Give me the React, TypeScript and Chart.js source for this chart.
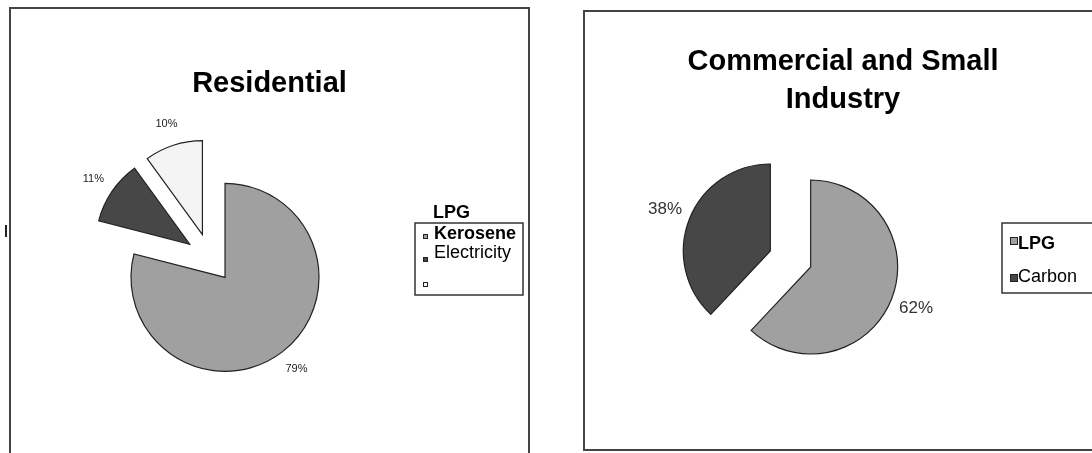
import React, { useEffect, useRef } from 'react';
import { Chart, registerables } from 'chart.js';

Chart.register(...registerables);

const FONT = '"Liberation Sans", Arial, Helvetica, sans-serif';

// ---- data ----
const residentialLabels = ['LPG', 'Kerosene', 'Electricity'];
const residentialValues = [79, 11, 10];
const residentialColors = ['#a0a0a0', '#474747', '#f4f4f4'];
const residentialTitle = ['Residential'];

const commercialLabels = ['LPG', 'Carbon'];
const commercialValues = [62, 38];
const commercialColors = ['#a0a0a0', '#474747'];
const commercialTitle = ['Commercial and Small', 'Industry'];

// ---- plugin: exploded slices, title, percentage labels, legend ----
const panelPlugin = {
  id: 'panel',
  beforeDatasetDraw(chart: any, args: any, opts: any) {
    const dist = opts.explode || 0;
    const ctx = chart.ctx;
    args.meta.data.forEach((arc: any) => {
      const p = arc.getProps(['startAngle', 'endAngle'], true);
      const mid = (p.startAngle + p.endAngle) / 2;
      ctx.save();
      ctx.translate(Math.cos(mid) * dist, Math.sin(mid) * dist);
      arc.draw(ctx);
      ctx.restore();
    });
    return false;
  },
  afterDraw(chart: any, _args: any, opts: any) {
    const ctx = chart.ctx;
    ctx.save();
    // title
    const t = opts.title;
    ctx.font = `bold ${t.size}px ${FONT}`;
    ctx.fillStyle = '#000';
    ctx.textAlign = 'center';
    ctx.textBaseline = 'alphabetic';
    t.lines.forEach((line: string, i: number) => {
      ctx.fillText(line, t.x, t.y + i * t.lineHeight);
    });

    // percentage labels
    const meta = chart.getDatasetMeta(0);
    const values = chart.data.datasets[0].data;
    const lb = opts.labels;
    ctx.font = `${lb.size}px ${FONT}`;
    ctx.fillStyle = lb.color;
    ctx.textAlign = 'center';
    ctx.textBaseline = 'middle';
    meta.data.forEach((arc: any, i: number) => {
      const p = arc.getProps(['x', 'y', 'startAngle', 'endAngle'], true);
      const mid = (p.startAngle + p.endAngle) / 2;
      const x = p.x + Math.cos(mid) * lb.distance;
      const y = p.y + Math.sin(mid) * lb.distance;
      ctx.fillText(`${values[i]}%`, x, y);
    });

    // legend
    const lg = opts.legend;
    const colors = chart.data.datasets[0].backgroundColor;
    ctx.strokeStyle = '#333';
    ctx.lineWidth = 1.5;
    ctx.strokeRect(lg.box[0], lg.box[1], lg.box[2], lg.box[3]);
    ctx.textAlign = 'left';
    ctx.textBaseline = 'alphabetic';
    chart.data.labels.forEach((label: string, i: number) => {
      const it = lg.items[i];
      ctx.fillStyle = colors[i];
      ctx.fillRect(it.mx, it.my, it.ms, it.ms);
      ctx.strokeStyle = '#222';
      ctx.lineWidth = 1;
      ctx.strokeRect(it.mx + 0.5, it.my + 0.5, it.ms - 1, it.ms - 1);
      ctx.font = `${it.bold ? 'bold ' : ''}${lg.size}px ${FONT}`;
      ctx.fillStyle = '#000';
      ctx.fillText(label, it.tx, it.ty);
    });
    ctx.restore();
  },
};

function PieCanvas(props: {
  width: number;
  height: number;
  left: number;
  labels: string[];
  values: number[];
  colors: string[];
  radius: number;
  padding: any;
  panel: any;
}) {
  const ref = useRef<HTMLCanvasElement | null>(null);
  useEffect(() => {
    if (!ref.current) return;
    const chart = new Chart(ref.current, {
      type: 'pie',
      data: {
        labels: props.labels,
        datasets: [
          {
            data: props.values,
            backgroundColor: props.colors,
            borderColor: '#222',
            borderWidth: 1.2,
            borderJoinStyle: 'miter',
            radius: props.radius,
          } as any,
        ],
      },
      options: {
        responsive: false,
        animation: false,
        events: [],
        layout: { padding: props.padding },
        plugins: {
          legend: { display: false },
          title: { display: false },
          tooltip: { enabled: false },
          panel: props.panel,
        } as any,
      },
      plugins: [panelPlugin as any],
    });
    return () => chart.destroy();
  }, []);
  return (
    <canvas
      ref={ref}
      width={props.width}
      height={props.height}
      style={{ position: 'absolute', left: props.left, top: 0, width: props.width, height: props.height }}
    />
  );
}

export default function App() {
  const border = '2px solid #444';
  return (
    <div
      style={{
        position: 'absolute',
        left: 0,
        top: 0,
        width: 1092,
        height: 453,
        overflow: 'hidden',
        background: '#fff',
      }}
    >
      <div
        style={{
          position: 'absolute',
          left: 9,
          top: 7,
          width: 521,
          height: 520,
          boxSizing: 'border-box',
          borderTop: border,
          borderLeft: border,
          borderRight: border,
        }}
      />
      <div
        style={{
          position: 'absolute',
          left: 583,
          top: 10,
          width: 600,
          height: 441,
          boxSizing: 'border-box',
          border: border,
        }}
      />
      <div style={{ position: 'absolute', left: 5, top: 225, width: 2, height: 12, background: '#222' }} />
      <PieCanvas
        width={545}
        height={453}
        left={0}
        labels={residentialLabels}
        values={residentialValues}
        colors={residentialColors}
        radius={94}
        padding={{ left: 0, right: 125, top: 63, bottom: 0 }}
        panel={{
          explode: 24.5,
          title: { lines: residentialTitle, x: 269.5, y: 92, lineHeight: 38, size: 29 },
          labels: { distance: 141, size: 11, color: '#222' },
          legend: {
            box: [415, 223, 108, 72],
            size: 18,
            items: [
              { mx: 423, my: 234, ms: 5, tx: 433, ty: 218, bold: true },
              { mx: 423, my: 257, ms: 5, tx: 434, ty: 239, bold: true },
              { mx: 423, my: 282, ms: 5, tx: 434, ty: 258, bold: false },
            ],
          },
        }}
      />
      <PieCanvas
        width={547}
        height={453}
        left={545}
        labels={commercialLabels}
        values={commercialValues}
        colors={commercialColors}
        radius={87}
        padding={{ left: 0, right: 56, top: 65, bottom: 0 }}
        panel={{
          explode: 21.7,
          title: { lines: commercialTitle, x: 298, y: 70, lineHeight: 38, size: 29 },
          labels: { distance: 135, size: 17, color: '#333' },
          legend: {
            box: [457, 223, 140, 70],
            size: 18,
            items: [
              { mx: 465, my: 237, ms: 8, tx: 473, ty: 249, bold: true },
              { mx: 465, my: 274, ms: 8, tx: 473, ty: 282, bold: false },
            ],
          },
        }}
      />
    </div>
  );
}
